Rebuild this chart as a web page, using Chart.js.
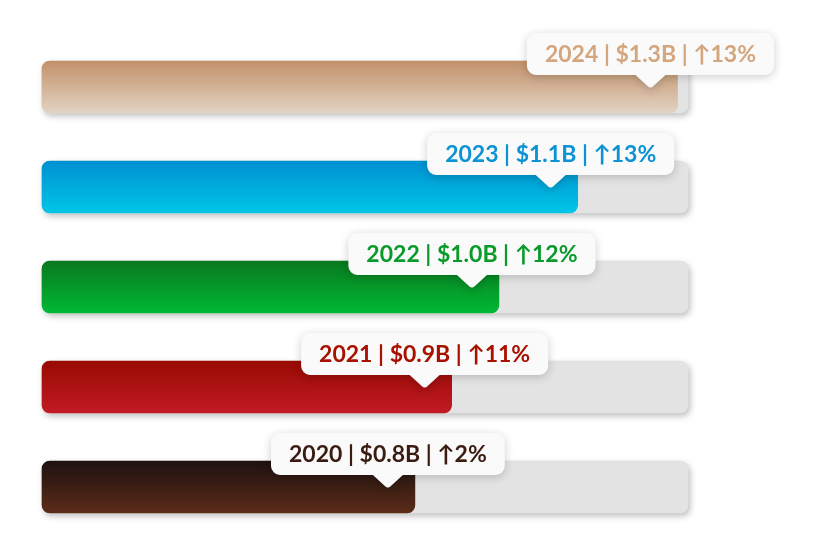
<!DOCTYPE html>
<html>
<head>
<meta charset="utf-8">
<script src="https://cdn.jsdelivr.net/npm/chart.js@4"></script>
<style>
  html, body { margin: 0; padding: 0; background: #fff; }
  #wrap { width: 819px; height: 553px; }
</style>
</head>
<body>
<div id="wrap"><canvas id="chart"></canvas></div>
<script>
// revenue in $B per year, growth in % vs previous year
const years = ["2020", "2021", "2022", "2023", "2024"];
const revenue = [0.81, 0.88, 0.97, 1.12, 1.31];
const growth = [2, 11, 12, 13, 13];
const scaleMin = 0.1;
const scaleMax = 1.33;

const topColors = ["#1d1210", "#980b02", "#0a781f", "#0090d2", "#c2916a"];
const bottomColors = ["#5b2c18", "#c21a25", "#00b933", "#00c6e6", "#e2d3c2"];
const textColors = ["#3a1c12", "#a81000", "#0a9a2a", "#0b93d4", "#d4a67e"];

const FONT = "bold 23px Lato, 'DejaVu Sans', sans-serif";

function barGradient(ctx) {
    const chart = ctx.chart;
    const y = chart.scales.y;
    const i = ctx.dataIndex;
    if (!y || i === undefined) return topColors[0];
    const cy = y.getPixelForValue(i);
    if (!isFinite(cy)) return topColors[i];
    const g = chart.ctx.createLinearGradient(0, cy - 26, 0, cy + 26);
    g.addColorStop(0, topColors[i]);
    g.addColorStop(1, bottomColors[i]);
    return g;
}

// rounded box with a small caret under it pointing at px
function calloutPath(c, x, y, w, h, r, px) {
    const b = y + h;
    c.beginPath();
    c.moveTo(x + r, y);
    c.arcTo(x + w, y, x + w, b, r);
    c.arcTo(x + w, b, x, b, r);
    c.lineTo(px + 15, b);
    c.lineTo(px + 3, b + 11);
    c.quadraticCurveTo(px, b + 14, px - 3, b + 11);
    c.lineTo(px - 15, b);
    c.arcTo(x, b, x, y, r);
    c.arcTo(x, y, x + w, y, r);
    c.closePath();
}

// drop shadow under the grey tracks
const trackShadow = {
    id: "trackShadow",
    beforeDatasetDraw(chart, args) {
        if (args.index !== 0) return;
        const c = chart.ctx;
        c.save();
        c.shadowColor = "rgba(0,0,0,0.25)";
        c.shadowBlur = 6;
        c.shadowOffsetX = 2;
        c.shadowOffsetY = 3;
    },
    afterDatasetDraw(chart, args) {
        if (args.index !== 0) return;
        chart.ctx.restore();
    }
};

// the callout boxes above each bar end
const callouts = {
    id: "callouts",
    afterDatasetsDraw(chart) {
        const c = chart.ctx;
        const meta = chart.getDatasetMeta(1);
        meta.data.forEach((bar, i) => {
            const text = years[i] + " | $" + revenue[i].toFixed(1) + "B | \u2191" + growth[i] + "%";
            c.save();
            c.font = FONT;
            const tw = c.measureText(text).width;
            const w = tw + 36, h = 42;
            const px = bar.x - 27;
            const barTop = bar.y - 26;
            const bx = px - w / 2, by = barTop - 28;

            c.shadowColor = "rgba(0,0,0,0.2)";
            c.shadowBlur = 10;
            c.shadowOffsetY = 2;
            c.fillStyle = "#fafafa";
            calloutPath(c, bx, by, w, h, 9, px);
            c.fill();
            c.shadowColor = "transparent";

            c.fillStyle = textColors[i];
            c.textAlign = "center";
            c.textBaseline = "middle";
            c.fillText(text, bx + w / 2, by + h / 2 + 1);
            c.restore();
        });
    }
};

new Chart(document.getElementById("chart"), {
    type: "bar",
    data: {
        labels: years,
        datasets: [{
            label: "track",
            data: years.map(() => scaleMax),
            base: scaleMin,
            backgroundColor: "#e3e3e3",
            borderRadius: 8,
            borderSkipped: false,
            barThickness: 52,
            grouped: false,
            clip: false,
            order: 2
        }, {
            label: "Revenue",
            data: revenue,
            base: scaleMin,
            backgroundColor: barGradient,
            borderRadius: 8,
            borderSkipped: false,
            barThickness: 52,
            grouped: false,
            clip: false,
            order: 1
        }]
    },
    options: {
        indexAxis: "y",
        responsive: true,
        maintainAspectRatio: false,
        animation: false,
        layout: { padding: { left: 42, right: 131, top: 37, bottom: 16 } },
        scales: {
            x: { display: false, min: scaleMin, max: scaleMax },
            y: { display: false, reverse: true }
        },
        plugins: {
            legend: { display: false },
            tooltip: { enabled: false }
        }
    },
    plugins: [trackShadow, callouts]
});
</script>
</body>
</html>
